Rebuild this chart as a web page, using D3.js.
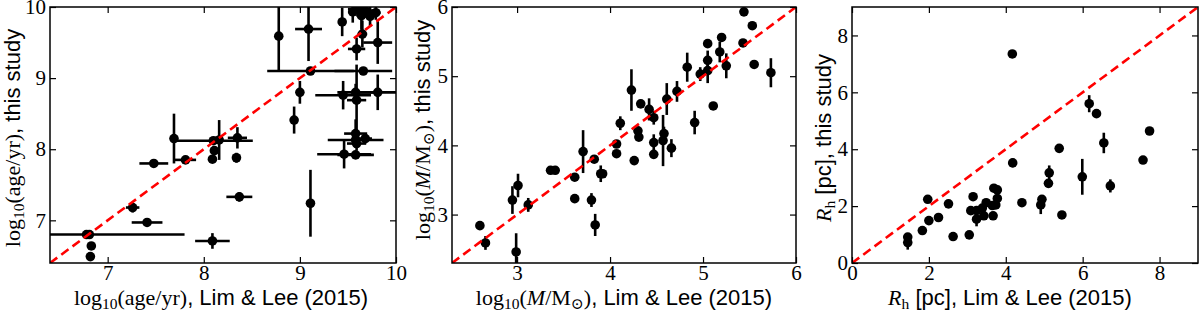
<!DOCTYPE html>
<html>
<head>
<meta charset="utf-8">
<script src="https://cdn.jsdelivr.net/npm/d3@7"></script>
<style>
  body { margin: 0; background: #fff; }
  svg { display: block; }
</style>
</head>
<body>
<div id="chart"></div>
<script>
// panel 1: log10(age/yr)
const ageX    = [6.78, 6.81, 6.83, 6.82, 7.26, 7.41, 7.48, 7.69, 7.81, 8.10, 8.16, 8.11, 8.09, 8.35, 8.34, 8.37, 8.09,
                 8.78, 8.94, 9.00, 9.09, 9.11, 9.11, 9.44, 9.45, 9.46, 9.58, 9.59, 9.58, 9.58, 9.59, 9.68, 9.58,
                 9.59, 9.65, 9.66, 9.81, 9.81, 9.55, 9.60, 9.64, 9.68, 9.73, 9.79];
const ageY    = [6.80, 6.80, 6.64, 6.49, 7.18, 6.97, 7.80, 8.15, 7.85, 8.12, 8.13, 7.98, 7.86, 8.16, 7.88, 7.33, 6.71,
                 9.59, 8.41, 8.80, 9.69, 9.10, 7.24, 9.79, 8.76, 7.93, 8.80, 8.69, 8.22, 8.13, 8.08, 8.15, 7.92,
                 9.41, 9.62, 9.10, 9.50, 8.80, 9.93, 9.97, 9.88, 9.95, 9.87, 9.92];
const ageXerr = [1.02, 0, 0, 0.03, 0.07, 0.16, 0.15, 0, 0.11, 0.41, 0, 0, 0, 0.10, 0, 0.135, 0.18,
                 0, 0, 0, 0.14, 0.45, 0, 0, 0.29, 0.28, 0.19, 0.10, 0.12, 0.29, 0.10, 0.07, 0.19,
                 0.09, 0.05, 0.30, 0.15, 0.20, 0.05, 0.10, 0.05, 0.10, 0.05, 0.05];
const ageYerr = [0, 0, 0.03, 0.04, 0.07, 0, 0, 0.35, 0, 0.04, 0.28, 0.05, 0.05, 0.15, 0.07, 0.065, 0.11,
                 0.48, 0.19, 0.16, 0.45, 0, 0.47, 0.20, 0.20, 0.20, 0.12, 0.50, 0.20, 0.10, 0.10, 0.07, 0,
                 0.16, 0.19, 0, 0.30, 0.25, 0.15, 0.10, 0.20, 0.10, 0.15, 0.10];

// panel 2: log10(M/Msun)
const massX    = [5.44, 5.53, 5.43, 5.55, 5.73, 5.20, 5.18, 5.25, 5.05, 5.05, 5.05, 4.97, 4.83, 4.72, 4.61, 5.11,
                  4.91, 4.23, 4.33, 4.42, 4.47, 4.11, 4.30, 4.58, 4.31, 4.47, 4.57, 4.47, 4.66, 4.07, 4.07, 4.26,
                  3.71, 3.83, 3.90, 3.92, 3.62, 3.62, 3.80, 3.84, 3.36, 3.41, 3.01, 2.95, 3.12, 2.99, 2.60, 2.66];
const massY    = [5.93, 5.73, 5.48, 5.17, 5.05, 5.56, 5.35, 5.15, 5.47, 5.23, 5.08, 5.03, 5.13, 4.78, 4.67, 4.57,
                  4.33, 4.80, 4.60, 4.52, 4.40, 4.32, 4.21, 4.17, 4.12, 4.04, 4.07, 3.87, 3.96, 4.02, 3.88, 3.78,
                  3.91, 3.80, 3.59, 3.59, 3.54, 3.23, 3.21, 2.85, 3.64, 3.64, 3.42, 3.21, 3.14, 2.46, 2.84, 2.59];
const massYerr = [0, 0, 0, 0, 0.21, 0, 0.15, 0.18, 0, 0.14, 0.18, 0.10, 0.21, 0.15, 0.23, 0,
                  0.17, 0.30, 0, 0.16, 0.10, 0.10, 0, 0.10, 0, 0.12, 0.37, 0, 0.13, 0, 0, 0,
                  0.31, 0, 0.12, 0, 0, 0, 0.10, 0.16, 0, 0, 0.17, 0.20, 0.10, 0.27, 0, 0.10];

// panel 3: R_h [pc]
const rhX    = [7.74, 7.57, 6.55, 6.72, 5.99, 5.46, 5.39, 5.13, 5.11, 4.94, 4.91, 4.42, 4.18, 3.69, 3.78, 3.78,
                3.74, 3.67, 3.65, 3.49, 3.43, 3.39, 3.15, 3.09, 3.24, 3.24, 3.05, 2.63, 2.51, 2.25, 2.00, 1.97,
                1.83, 1.45, 1.45, 4.17, 6.17, 6.36];
const rhY    = [4.64, 3.62, 4.22, 2.71, 3.03, 1.69, 4.03, 3.17, 2.80, 2.24, 2.04, 2.12, 3.52, 2.63, 2.57, 2.27,
                2.04, 1.66, 2.02, 2.12, 1.66, 1.93, 2.33, 1.84, 1.84, 1.54, 0.99, 0.93, 2.08, 1.60, 1.49, 2.24,
                1.14, 0.91, 0.72, 7.35, 5.60, 5.25];
const rhYerr = [0, 0, 0.36, 0.23, 0.63, 0, 0, 0.26, 0, 0.10, 0.32, 0, 0.15, 0, 0, 0,
                0, 0, 0, 0.12, 0, 0, 0.10, 0, 0, 0.25, 0, 0, 0, 0, 0, 0,
                0, 0, 0.25, 0.12, 0.30, 0];

const ageTicks = [7, 8, 9, 10];
const massTicks = [3, 4, 5, 6];
const rhTicks = [0, 2, 4, 6, 8];

const W = 1200, H = 311;
const serif = "'Liberation Serif', 'DejaVu Serif', serif";
const sans = "'Liberation Sans', 'DejaVu Sans', sans-serif";

const svg = d3.select('#chart').append('svg').attr('width', W).attr('height', H);

function pts(xs, ys, xe, ye) {
  return xs.map((x, i) => ({x: x, y: ys[i], xe: xe ? xe[i] : 0, ye: ye ? ye[i] : 0}));
}

const panels = [
  {id: 'p1', left: 50, right: 396, dom: [6.4, 10], ticks: ageTicks, data: pts(ageX, ageY, ageXerr, ageYerr),
   xlabel: [['s', 'log'], ['sub', '10'], ['s', '(age/yr)'], ['n', ', Lim & Lee (2015)']],
   ylabel: [['s', 'log'], ['sub', '10'], ['s', '(age/yr)'], ['n', ', this study']], ylx: 19.5, ylc: 138, xlc: 221},
  {id: 'p2', left: 452, right: 796, dom: [2.3, 6], ticks: massTicks, data: pts(massX, massY, null, massYerr),
   xlabel: [['s', 'log'], ['sub', '10'], ['s', '('], ['i', 'M'], ['s', '/M'], ['sub', '\u2299'], ['s', ')'], ['n', ', Lim & Lee (2015)']],
   ylabel: [['s', 'log'], ['sub', '10'], ['s', '('], ['i', 'M'], ['s', '/M'], ['sub', '\u2299'], ['s', ')'], ['n', ', this study']], ylx: 430, ylc: 130, xlc: 624},
  {id: 'p3', left: 852, right: 1198, dom: [0, 9], ticks: rhTicks, data: pts(rhX, rhY, null, rhYerr),
   xlabel: [['i', 'R'], ['sub', 'h'], ['n', ' [pc], Lim & Lee (2015)']],
   ylabel: [['i', 'R'], ['sub', 'h'], ['n', ' [pc], this study']], ylx: 831, ylc: 138, xlc: 1010}
];
const plotTop = 7, plotBottom = 263;

function addLabel(t, parts) {
  let shifted = false;
  parts.forEach(([kind, str]) => {
    const ts = t.append('tspan').text(str);
    if (kind === 'sub') {
      ts.attr('font-family', serif).attr('font-size', 15.5).attr('dy', shifted ? 0 : 4);
      shifted = true;
      return;
    }
    if (shifted) { ts.attr('dy', -4); shifted = false; }
    if (kind === 's') ts.attr('font-family', serif);
    if (kind === 'i') ts.attr('font-family', serif).attr('font-style', 'italic');
    if (kind === 'n') ts.attr('font-family', sans);
  });
}

panels.forEach(p => {
  const x = d3.scaleLinear().domain(p.dom).range([p.left, p.right]);
  const y = d3.scaleLinear().domain(p.dom).range([plotBottom, plotTop]);
  const g = svg.append('g');

  svg.append('clipPath').attr('id', 'clip-' + p.id).append('rect')
    .attr('x', p.left).attr('y', plotTop).attr('width', p.right - p.left).attr('height', plotBottom - plotTop);

  const plot = g.append('g').attr('clip-path', `url(#clip-${p.id})`);

  // error bars
  plot.selectAll('.xe').data(p.data.filter(d => d.xe > 0)).enter().append('line')
    .attr('x1', d => x(d.x - d.xe)).attr('x2', d => x(d.x + d.xe))
    .attr('y1', d => y(d.y)).attr('y2', d => y(d.y))
    .attr('stroke', '#000').attr('stroke-width', 2.6);
  plot.selectAll('.ye').data(p.data.filter(d => d.ye > 0)).enter().append('line')
    .attr('x1', d => x(d.x)).attr('x2', d => x(d.x))
    .attr('y1', d => y(d.y - d.ye)).attr('y2', d => y(d.y + d.ye))
    .attr('stroke', '#000').attr('stroke-width', 2.6);
  plot.selectAll('circle').data(p.data).enter().append('circle')
    .attr('cx', d => x(d.x)).attr('cy', d => y(d.y)).attr('r', 4.8).attr('fill', '#000');

  // one-to-one line
  plot.append('line')
    .attr('x1', x(p.dom[0])).attr('y1', y(p.dom[0]))
    .attr('x2', x(p.dom[1])).attr('y2', y(p.dom[1]))
    .attr('stroke', '#f00').attr('stroke-width', 2.6).attr('stroke-dasharray', '9,5');

  // axes, ticks pointing inward on all sides
  const axes = [
    [d3.axisBottom(x), `translate(0,${plotBottom})`, true, 2],
    [d3.axisTop(x), `translate(0,${plotTop})`, false, 2],
    [d3.axisLeft(y), `translate(${p.left},0)`, true, 4],
    [d3.axisRight(y), `translate(${p.right},0)`, false, 4]
  ];
  axes.forEach(([ax, tr, lab, pad]) => {
    ax.tickValues(p.ticks).tickSizeInner(-6).tickSizeOuter(0).tickPadding(pad)
      .tickFormat(lab ? d3.format('d') : '');
    const a = g.append('g').attr('transform', tr).call(ax);
    a.select('.domain').remove();
    a.selectAll('line').attr('stroke', '#000').attr('stroke-width', 1.2);
    a.selectAll('text').attr('font-family', serif).attr('font-size', 21).attr('fill', '#000');
  });

  g.append('rect').attr('x', p.left).attr('y', plotTop)
    .attr('width', p.right - p.left).attr('height', plotBottom - plotTop)
    .attr('fill', 'none').attr('stroke', '#000').attr('stroke-width', 1.5);

  const xl = g.append('text').attr('x', p.xlc).attr('y', 305)
    .attr('text-anchor', 'middle').attr('font-size', 22).attr('fill', '#000');
  addLabel(xl, p.xlabel);

  const yl = g.append('text')
    .attr('transform', `translate(${p.ylx},${p.ylc}) rotate(-90)`)
    .attr('text-anchor', 'middle').attr('font-size', 22).attr('fill', '#000');
  addLabel(yl, p.ylabel);
});
</script>
</body>
</html>
